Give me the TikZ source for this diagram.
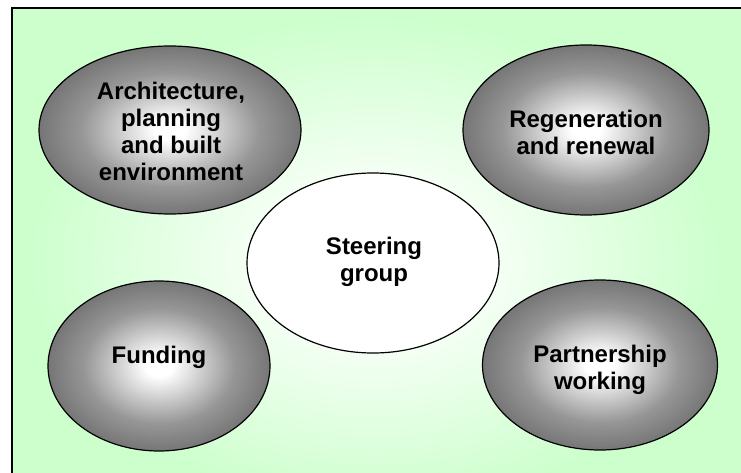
\documentclass[tikz,border=0pt]{standalone}
\usepackage{fontspec}
\setmainfont{Liberation Sans}
\usetikzlibrary{shapes.geometric,calc}

\definecolor{panelgreen}{RGB}{204,255,204}
\definecolor{bubblerim}{RGB}{118,118,118}
\definecolor{bubblemid}{RGB}{150,150,150}

% soft white glow in the middle of the green panel
\pgfdeclareradialshading{panelglow}{\pgfpointorigin}{%
  color(0bp)=(white); color(4bp)=(white); color(23bp)=(panelgreen); color(50bp)=(panelgreen)}
% grey bubbles with a bright centre
\pgfdeclareradialshading{bubbleshade}{\pgfpointorigin}{%
  color(0bp)=(white); color(3bp)=(white); color(17bp)=(bubblemid); color(25bp)=(bubblerim); color(50bp)=(bubblerim)}

\tikzset{
  bubble/.style={ellipse, draw=black, line width=1.2pt, shading=bubbleshade, inner sep=0pt},
  hub/.style={ellipse, draw=black, line width=1.2pt, fill=white, inner sep=0pt},
  caption/.style={font=\fontsize{24}{27}\selectfont\bfseries, align=center, inner sep=0pt, text=black},
}

\begin{document}
\begin{tikzpicture}[x=1pt,y=-1pt]
  \useasboundingbox (0,0) rectangle (741,473);

  % panel background
  \begin{scope}
    \clip (12,8) rectangle (741,473);
    \shade[shading=panelglow] (-5,-8) rectangle (755,532);
  \end{scope}
  \draw[line width=2pt, line cap=rect] (12,473) -- (12,8) -- (741,8);

  % outer topics
  \node[bubble, minimum width=262pt, minimum height=168pt] (arch) at (170,130) {};
  \node[bubble, minimum width=246pt, minimum height=170pt] (regen) at (586,130) {};
  \node[bubble, minimum width=222pt, minimum height=170pt] (fund) at (159,366) {};
  \node[bubble, minimum width=235pt, minimum height=170pt] (part) at (600,365) {};
  % central group
  \node[hub, minimum width=252pt, minimum height=180pt] (steer) at (373,263) {};

  \node[caption] at ($(arch.center)+(1,1)$) {Architecture,\\planning\\ and built\\environment};
  \node[caption] at ($(regen.center)+(0,2)$) {Regeneration\\and renewal};
  \node[caption] at ($(steer.center)+(1,-1)$) {Steering\\group};
  \node[caption] at ($(fund.center)+(0,-9)$) {Funding};
  \node[caption] at ($(part.center)+(0,5)$) {Partnership\\working};
\end{tikzpicture}
\end{document}
